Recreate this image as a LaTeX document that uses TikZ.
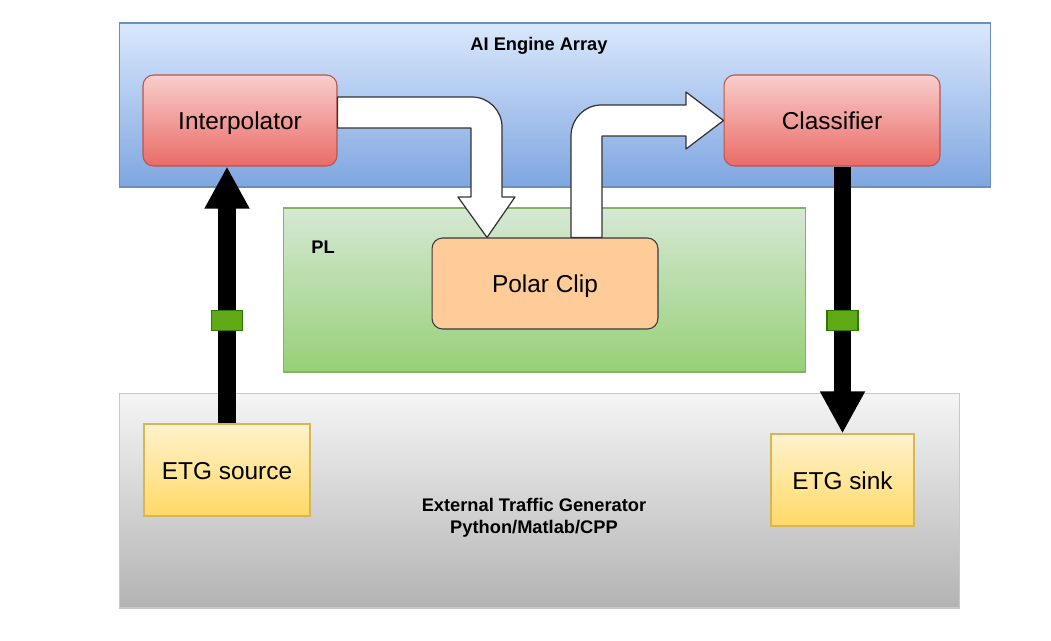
\documentclass[tikz,border=0pt]{standalone}
\usepackage{fontspec}
\setmainfont{Liberation Sans}
\usepackage{xcolor}
\usepackage{tikz}
\usetikzlibrary{arrows.meta,positioning}

\definecolor{aieTop}{HTML}{DAE8FC}
\definecolor{aieBot}{HTML}{7EA6E0}
\definecolor{aieLine}{HTML}{6C8EBF}
\definecolor{plTop}{HTML}{D5E8D4}
\definecolor{plBot}{HTML}{97D077}
\definecolor{plLine}{HTML}{82B366}
\definecolor{extTop}{HTML}{F5F5F5}
\definecolor{extBot}{HTML}{B3B3B3}
\definecolor{extLine}{HTML}{C8C8C8}
\definecolor{kTop}{HTML}{F8CECC}
\definecolor{kBot}{HTML}{EA6B66}
\definecolor{kLine}{HTML}{B85450}
\definecolor{clipFill}{HTML}{FFCC99}
\definecolor{clipLine}{HTML}{36393D}
\definecolor{etgTop}{HTML}{FFF2CC}
\definecolor{etgBot}{HTML}{FFD966}
\definecolor{etgLine}{HTML}{D6B656}
\definecolor{portFill}{HTML}{60A917}
\definecolor{portLine}{HTML}{2D7600}

\begin{document}
\begin{tikzpicture}[x=0.02cm, y=-0.02cm,
  region/.style={draw, inner sep=0pt, line width=0.6pt},
  title/.style={font=\fontsize{10.4}{12.5}\selectfont\bfseries, align=center},
  kernel/.style={draw=kLine, top color=kTop, bottom color=kBot, rounded corners=6pt,
    inner sep=0pt, minimum height=1.82cm, line width=0.6pt, text height=10.4pt, text depth=0pt,
    font=\fontsize{13.9}{16}\selectfont},
  etg/.style={draw=etgLine, top color=etgTop, bottom color=etgBot, inner sep=0pt,
    minimum height=1.84cm, line width=0.6pt, text height=10.4pt, text depth=0pt,
    font=\fontsize{13.9}{16}\selectfont},
  bus/.style={line width=9.7pt, -{Triangle[width=24pt, length=24pt]}},
  port/.style={draw=portLine, fill=portFill, line width=0.6pt, minimum width=0.62cm,
    minimum height=0.4cm, inner sep=0pt},
  blockarrow/.style={draw=black!80, fill=white, line width=0.7pt, line join=round}]
\useasboundingbox (0,0) rectangle (1051,640);

% regions
\node[region, draw=aieLine, top color=aieTop, bottom color=aieBot,
  minimum width=17.44cm, minimum height=3.28cm] (aie) at (555,105) {};
\node[region, draw=plLine, top color=plTop, bottom color=plBot,
  minimum width=10.46cm, minimum height=3.28cm] (pl) at (544.5,290) {};
\node[region, draw=extLine, top color=extTop, bottom color=extBot,
  minimum width=16.82cm, minimum height=4.3cm] (ext) at (539.5,500.5) {};

\node[title] (aietitle) at (539,46) {AI Engine Array};
\node[title] (pltitle) at (323,247) {PL};
\node[title] (exttitle) at (534,518) {External Traffic Generator\\Python/Matlab/CPP};

% kernels
\node[kernel, minimum width=3.88cm] (interp) at (240,120.5) {Interpolator};
\node[kernel, minimum width=4.32cm] (classif) at (832,120.5) {Classifier};
\node[kernel, draw=clipLine, fill=clipFill, top color=clipFill, bottom color=clipFill,
  minimum width=4.52cm] (polar) at (545,283.5) {Polar Clip};

% traffic generators
\node[etg, minimum width=3.32cm] (src) at (227,470) {ETG source};
\node[etg, minimum width=2.86cm] (sink) at (842.5,480) {ETG sink};

% PL connections
\draw[blockarrow] (interp.east |- 0,97) -- (472,97)
  .. controls (488.6,97) and (502,110.4) .. (502,127) -- (502,197) -- (515,197)
  -- (487,0 |- polar.north) -- (458,197) -- (471,197) -- (471,128)
  -- (interp.east |- 0,128) -- cycle;
\draw[blockarrow] (571,0 |- polar.north) -- (571,136)
  .. controls (571,119.4) and (584.4,105) .. (601,105) -- (686,105) -- (686,92)
  -- (classif.west |- 0,120.5) -- (686,149) -- (686,136) -- (602,136)
  -- (602,0 |- polar.north) -- cycle;

% external traffic
\draw[bus] (src.north) -- (src.north |- interp.south) node[port, pos=0.4] (pin) {};
\draw[bus] (sink.north |- classif.south) -- (sink.north) node[port, pos=0.578] (pout) {};
\end{tikzpicture}
\end{document}
